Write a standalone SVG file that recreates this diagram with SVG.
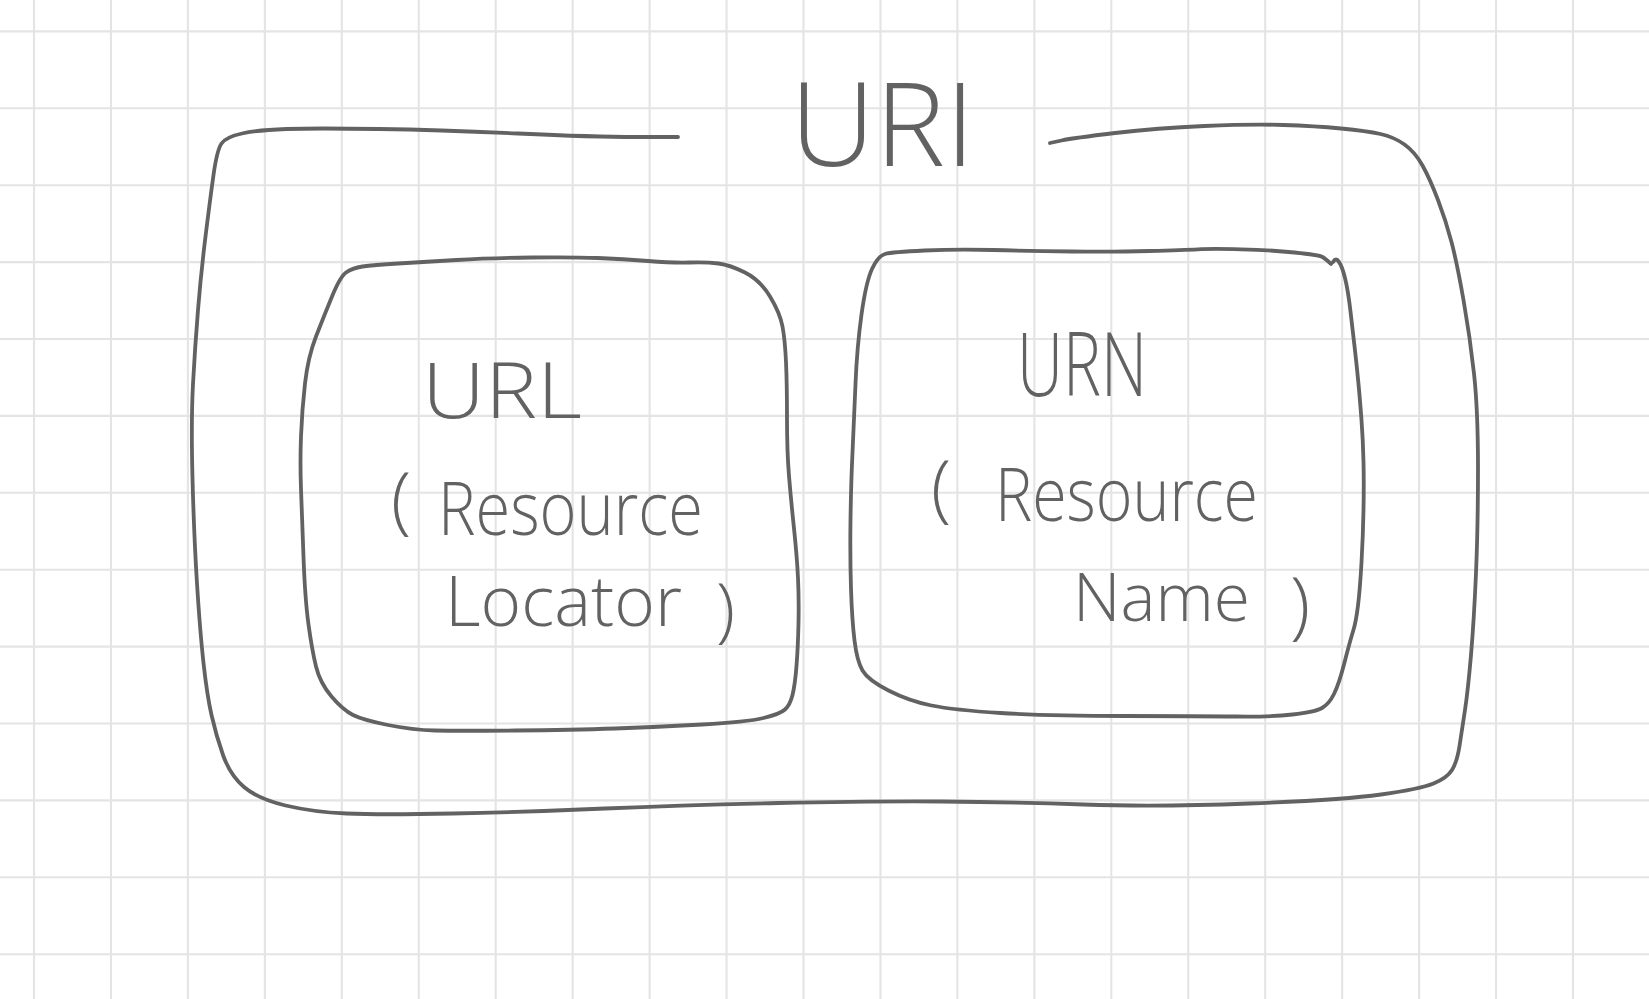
<svg xmlns="http://www.w3.org/2000/svg" width="1649" height="999" viewBox="0 0 1649 999">
<style>
.grid line{stroke:#e4e4e4;stroke-width:2.1}
.ink{fill:none;stroke:#626262;stroke-width:3.8;stroke-linecap:round;stroke-linejoin:round}
.t{font-family:"Open Sans","Noto Sans","Liberation Sans",sans-serif;font-weight:300;fill:#626262}
</style>
<rect width="1649" height="999" fill="#ffffff"/>
<g class="grid">
<line x1="34" y1="0" x2="34" y2="999"/><line x1="110.95" y1="0" x2="110.95" y2="999"/><line x1="187.9" y1="0" x2="187.9" y2="999"/><line x1="264.85" y1="0" x2="264.85" y2="999"/><line x1="341.8" y1="0" x2="341.8" y2="999"/><line x1="418.75" y1="0" x2="418.75" y2="999"/><line x1="495.7" y1="0" x2="495.7" y2="999"/><line x1="572.65" y1="0" x2="572.65" y2="999"/><line x1="649.6" y1="0" x2="649.6" y2="999"/><line x1="726.55" y1="0" x2="726.55" y2="999"/><line x1="803.5" y1="0" x2="803.5" y2="999"/><line x1="880.45" y1="0" x2="880.45" y2="999"/><line x1="957.4" y1="0" x2="957.4" y2="999"/><line x1="1034.35" y1="0" x2="1034.35" y2="999"/><line x1="1111.3" y1="0" x2="1111.3" y2="999"/><line x1="1188.25" y1="0" x2="1188.25" y2="999"/><line x1="1265.2" y1="0" x2="1265.2" y2="999"/><line x1="1342.15" y1="0" x2="1342.15" y2="999"/><line x1="1419.1" y1="0" x2="1419.1" y2="999"/><line x1="1496.05" y1="0" x2="1496.05" y2="999"/><line x1="1573" y1="0" x2="1573" y2="999"/>
<line x1="0" y1="31.4" x2="1649" y2="31.4"/><line x1="0" y1="108.3" x2="1649" y2="108.3"/><line x1="0" y1="185.2" x2="1649" y2="185.2"/><line x1="0" y1="262.1" x2="1649" y2="262.1"/><line x1="0" y1="339" x2="1649" y2="339"/><line x1="0" y1="415.9" x2="1649" y2="415.9"/><line x1="0" y1="492.8" x2="1649" y2="492.8"/><line x1="0" y1="569.7" x2="1649" y2="569.7"/><line x1="0" y1="646.6" x2="1649" y2="646.6"/><line x1="0" y1="723.5" x2="1649" y2="723.5"/><line x1="0" y1="800.4" x2="1649" y2="800.4"/><line x1="0" y1="877.3" x2="1649" y2="877.3"/><line x1="0" y1="954.2" x2="1649" y2="954.2"/>
</g>
<g id="uri">
<path class="ink" d="M678,137 L636,137 Q594,137 518,133.5 Q442,130 378.5,129 Q315,128 286.5,129 Q258,130 242,133.5 Q226,137 221.5,143.5 Q217,150 213.5,175 Q210,200 205.5,236.5 Q201,273 198,310 Q195,347 193,384 Q191,421 192.5,478.5 Q194,536 197,583.5 Q200,631 203.5,663 Q207,695 211.5,715 Q216,735 223,755 Q230,775 244,787 Q258,799 285.5,805.5 Q313,812 346.5,813.5 Q380,815 453,813.5 Q526,812 605,808.5 Q684,805 778.5,803 Q873,801 941.5,801.5 Q1010,802 1083.5,804.5 Q1157,807 1249.5,803.5 Q1342,800 1381,794.5 Q1420,789 1433.5,783.5 Q1447,778 1452,770 Q1457,762 1459.5,746 Q1462,730 1465,710 Q1468,690 1471,655 Q1474,620 1476,573 Q1478,526 1478,468 Q1478,410 1474,373.5 Q1470,337 1463.5,300 Q1457,263 1451.5,242 Q1446,221 1438,200 Q1430,179 1422.5,165.5 Q1415,152 1404.5,144.5 Q1394,137 1380.5,134 Q1367,131 1341,128.5 Q1315,126 1283.5,125 Q1252,124 1204.5,126 Q1157,128 1115,133 Q1073,138 1061.5,140.5 L1050,143"/>
<text class="t" x="790" y="166" font-size="116" textLength="185" lengthAdjust="spacingAndGlyphs">URI</text>
</g>
<g id="url">
<path class="ink" d="M362.5,266.5 Q373,265 398,263.5 Q423,262 456.5,260 Q490,258 531.5,257.5 Q573,257 598,258 Q623,259 648,261 Q673,263 690,262.5 Q707,262 718.5,263.5 Q730,265 745,272.5 Q760,280 770,296.5 Q780,313 782.5,326.5 Q785,340 786,362 Q787,384 787,418 Q787,452 789,476 Q791,500 794,528.5 Q797,557 798,578 Q799,599 798.5,623 Q798,647 796.5,666 Q795,685 792.5,695 Q790,705 785,709.5 Q780,714 763.5,718 Q747,722 702,724.5 Q657,727 615,728.5 Q573,730 515,730.5 Q457,731 435,730.5 Q413,730 388,725 Q363,720 353,715 Q343,710 331.5,696.5 Q320,683 316,666.5 Q312,650 308.5,624.5 Q305,599 303.5,557 Q302,515 301,489 Q300,463 301,436.5 Q302,410 305,383.5 Q308,357 316,336.5 Q324,316 332,296.5 Q340,277 346,272.5 Q352,268 362.5,266.5 Z"/>
<text class="t" x="422" y="418" font-size="78" textLength="160" lengthAdjust="spacingAndGlyphs">URL</text>
<text class="t" font-size="74"><tspan x="391" y="525">(</tspan><tspan x="438" y="535" textLength="265" lengthAdjust="spacingAndGlyphs">Resource</tspan></text>
<text class="t" font-size="70"><tspan x="445" y="626" textLength="237" lengthAdjust="spacingAndGlyphs">Locator</tspan><tspan x="716" y="634">)</tspan></text>
</g>
<g id="urn">
<path class="ink" d="M1333,262 Q1336,257 1339,262 Q1342,266 1345,278 Q1348,290 1350.5,311.5 Q1353,333 1355,350.5 Q1357,368 1358.5,384 Q1360,400 1361.5,420 Q1363,440 1363.5,462 Q1364,484 1363.5,510 Q1363,536 1361.5,562.5 Q1360,589 1358,605.5 Q1356,622 1353,631.5 Q1350,641 1344.5,662.5 Q1339,684 1334,694 Q1329,704 1322,708 Q1315,712 1292.5,714.5 Q1270,717 1236,716.5 Q1202,716 1124.5,716 Q1047,716 1000.5,713 Q954,710 931.5,705.5 Q909,701 888.5,690.5 Q868,680 862.5,670.5 Q857,661 854.5,640.5 Q852,620 851,588.5 Q850,557 850.5,520.5 Q851,484 852.5,452.5 Q854,421 855.5,384 Q857,347 861.5,314.5 Q866,282 872,269 Q878,256 885,254 Q892,252 924.5,250.5 Q957,249 993,250 Q1029,251 1072,251.5 Q1115,252 1149.5,251 Q1184,250 1198,249.3 Q1212,248.6 1241,249.3 Q1270,250 1294.5,252.5 Q1319,255 1322.5,257 Q1326,259 1331,264"/>
<text class="t" x="1017" y="396" font-size="88" textLength="130" lengthAdjust="spacingAndGlyphs">URN</text>
<text class="t" font-size="74"><tspan x="931" y="513">(</tspan><tspan x="995" y="521" textLength="263" lengthAdjust="spacingAndGlyphs">Resource</tspan></text>
<text class="t" font-size="66"><tspan x="1073" y="621" textLength="177" lengthAdjust="spacingAndGlyphs">Name</tspan><tspan x="1290" y="630" font-size="74">)</tspan></text>
</g>
<g id="connectors"/>
</svg>
